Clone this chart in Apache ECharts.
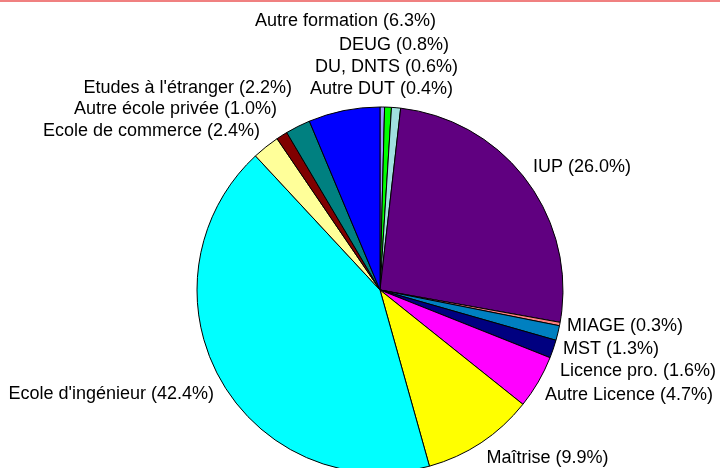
<!DOCTYPE html>
<html>
<head>
<meta charset="utf-8">
<script src="https://cdn.jsdelivr.net/npm/echarts@6/dist/echarts.min.js"></script>
<style>
  html, body { margin: 0; padding: 0; background: #fff; }
  #topbar { position: absolute; left: 0; top: 0; width: 720px; height: 2px; background: #f08080; }
  #chart { position: absolute; left: 0; top: 0; width: 720px; height: 468px; }
</style>
</head>
<body>
<div id="chart"></div>
<div id="topbar"></div>
<script>
// Data (clockwise from 12 o'clock)
const categories = [
  "Autre DUT", "DU, DNTS", "DEUG", "IUP", "MIAGE", "MST", "Licence pro.",
  "Autre Licence", "Maîtrise", "Ecole d'ingénieur", "Ecole de commerce",
  "Autre école privée", "Etudes à l'étranger", "Autre formation"
];
const values = [0.4, 0.6, 0.8, 26.0, 0.3, 1.3, 1.6, 4.7, 9.9, 42.4, 2.4, 1.0, 2.2, 6.3];

// Styles
const colors = [
  "#9999ff", "#00ff00", "#a0e0e0", "#600080", "#ff8080", "#0080c0", "#000080",
  "#ff00ff", "#ffff00", "#00ffff", "#ffff99", "#800000", "#008080", "#0000ff"
];
// Label anchors: [x, baseline y, align]
const labelAnchors = [
  [453, 95, "right"],
  [458, 73, "right"],
  [449, 50.5, "right"],
  [533, 173, "left"],
  [567, 331.5, "left"],
  [563, 355, "left"],
  [560, 377, "left"],
  [545, 400.5, "left"],
  [486.5, 464, "left"],
  [214, 400, "right"],
  [260, 136.5, "right"],
  [277, 115, "right"],
  [292, 94, "right"],
  [436, 26.5, "right"]
];
const FONT_SIZE = 18;
const BASE_OFF = 5.8;

const chart = echarts.init(document.getElementById('chart'), null, { renderer: 'canvas' });
chart.setOption({
  animation: false,
  backgroundColor: '#fff',
  series: [{
    type: 'pie',
    center: [380, 290],
    radius: 183,
    startAngle: 90,
    clockwise: true,
    avoidLabelOverlap: false,
    silent: true,
    data: categories.map((c, i) => ({
      name: c,
      value: values[i],
      itemStyle: { color: colors[i] }
    })),
    itemStyle: { borderColor: '#000', borderWidth: 1 },
    label: {
      show: true,
      position: 'outside',
      fontFamily: 'Liberation Sans',
      fontSize: FONT_SIZE,
      color: '#000',
      formatter: p => p.name + ' (' + p.value.toFixed(1) + '%)'
    },
    labelLine: { show: false },
    labelLayout: function (params) {
      const a = labelAnchors[params.dataIndex];
      return { x: a[0], y: a[1] - BASE_OFF, align: a[2], verticalAlign: 'middle' };
    }
  }]
});
</script>
</body>
</html>
